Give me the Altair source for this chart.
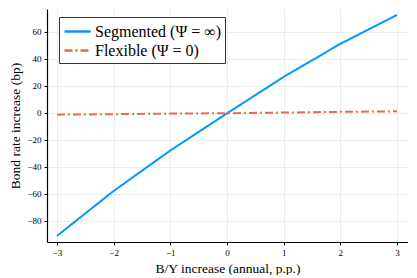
import altair as alt
import pandas as pd

x_vals = [-3, -2, -1, 0, 1, 2, 3]
segmented = [-91.3, -58.0, -28.0, -0.5, 26.5, 51.0, 72.4]
flexible = [-1.5, -1.1, -0.7, -0.4, 0.1, 0.6, 1.0]
series_names = ["Segmented (Ψ = ∞)", "Flexible (Ψ = 0)"]
colors = ["#009AFA", "#E36F47"]

rows = []
for xv, s, f in zip(x_vals, segmented, flexible):
    rows.append({"x": xv, "y": s, "series": series_names[0]})
    rows.append({"x": xv, "y": f, "series": series_names[1]})
df = pd.DataFrame(rows)

font = "Liberation Serif"

chart = alt.Chart(df).mark_line(strokeWidth=2).encode(
    x=alt.X("x:Q", title="B/Y increase (annual, p.p.)",
            scale=alt.Scale(domain=[-3.176, 3.194], nice=False, zero=False),
            axis=alt.Axis(values=[-3, -2, -1, 0, 1, 2, 3], format="d")),
    y=alt.Y("y:Q", title="Bond rate increase (bp)",
            scale=alt.Scale(domain=[-95.8, 76.8], nice=False, zero=False),
            axis=alt.Axis(values=[-80, -60, -40, -20, 0, 20, 40, 60], format="d")),
    color=alt.Color("series:N", sort=series_names,
                    scale=alt.Scale(domain=series_names, range=colors),
                    legend=alt.Legend(title=None, orient="none", legendX=12, legendY=8,
                                      symbolType="M-1,0L1.9,0", symbolStrokeWidth=2.5,
                                      symbolSize=324, labelOffset=11, labelLimit=300)),
    strokeDash=alt.StrokeDash("series:N", sort=series_names,
                              scale=alt.Scale(domain=series_names, range=[[1, 0], [8, 3, 2, 3]]),
                              legend=None),
).properties(width=361, height=233,
             padding={"left": 0, "top": 1, "right": 0, "bottom": 0}).configure_axis(
    labelFont=font, titleFont=font, labelFontSize=9, titleFontSize=13.5,
    titleFontWeight="normal", labelColor="black", titleColor="black",
    gridColor="#e8e8e8", gridWidth=0.8, domainColor="black", domainWidth=1.2,
    tickColor="black", tickSize=3, labelPadding=3,
).configure_legend(
    labelFont=font, labelFontSize=16, labelColor="black",
    strokeColor="#333333", fillColor="white", padding=4, rowPadding=0,
).configure_view(stroke=None)

chart.save("out.html", embed_options={"renderer": "svg", "actions": False})
